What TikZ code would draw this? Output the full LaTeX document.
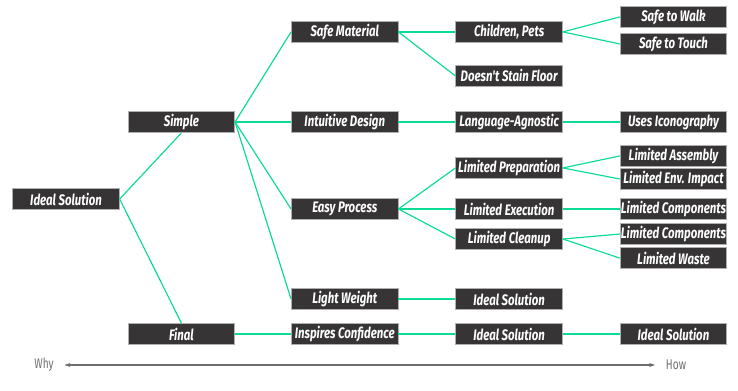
\documentclass[tikz,border=0pt]{standalone}
\usepackage{fontspec}
\usepackage{tikz}
\usetikzlibrary{arrows.meta,positioning}
\usepackage{xcolor}
\newfontfamily\boxfont[FakeStretch=0.75]{Fira Sans}
\newfontfamily\axisfont[FakeStretch=0.72]{Fira Sans}
\definecolor{boxgray}{RGB}{54,52,52}
\definecolor{edgegray}{RGB}{175,175,175}
\definecolor{mint}{RGB}{10,220,150}
\definecolor{axisgray}{RGB}{110,110,110}

\begin{document}
\begin{tikzpicture}[
    box/.style={rectangle, draw=edgegray, fill=boxgray, text=white, text centered, minimum width=3.2cm, minimum height=0.64cm, inner sep=0pt, line width=0.6pt, font=\boxfont\bfseries\itshape\fontsize{13}{15}\selectfont},
    link/.style={draw=mint, line width=1pt},
    axislabel/.style={text=axisgray, inner sep=2pt, font=\axisfont\fontsize{12}{14}\selectfont},
    axis/.style={{Stealth[length=5pt,width=3.5pt]}-{Stealth[length=5pt,width=3.5pt]}, draw=axisgray, line width=0.9pt, shorten <=0.25cm, shorten >=0.25cm}
]

\useasboundingbox (0,0) rectangle (22.14,-11.73);

\node[box] (ideal) at (1.98,-5.97) {Ideal Solution};

\node[box, above right=1.65cm and 0.24cm of ideal] (simple) {Simple};
\node[box, below right=3.39cm and 0.24cm of ideal] (final) {Final};

\node[box, above right=2.04cm and 1.68cm of simple] (safemat) {Safe Material};
\node[box, right=1.68cm of simple] (intuitive) {Intuitive Design};
\node[box, below=1.95cm of intuitive] (easy) {Easy Process};
\node[box, below=2.04cm of easy] (light) {Light Weight};
\node[box, right=1.68cm of final] (confidence) {Inspires Confidence};

\node[box, right=1.71cm of safemat] (children) {Children, Pets};
\node[box, below=0.66cm of children] (nostain) {Doesn't Stain Floor};
\node[box, right=1.71cm of intuitive] (agnostic) {Language-Agnostic};
\node[box, right=1.71cm of easy] (exec) {Limited Execution};
\node[box, above=0.57cm of exec] (prep) {Limited Preparation};
\node[box, below=0.24cm of exec] (cleanup) {Limited Cleanup};
\node[box, right=1.71cm of light] (lightideal) {Ideal Solution};
\node[box, right=1.71cm of confidence] (confideal) {Ideal Solution};

\node[box, right=1.71cm of children, yshift=0.45cm] (walk) {Safe to Walk};
\node[box, below=0.15cm of walk] (touch) {Safe to Touch};
\node[box, right=1.71cm of agnostic] (icons) {Uses Iconography};
\node[box, right=1.71cm of prep, yshift=0.36cm] (assembly) {Limited Assembly};
\node[box, below=0.03cm of assembly] (envimpact) {Limited Env. Impact};
\node[box, right=1.71cm of exec] (comps) {Limited Components};
\node[box, below=0.09cm of comps] (compsb) {Limited Components};
\node[box, below=0.06cm of compsb] (waste) {Limited Waste};
\node[box, right=1.71cm of confideal] (howideal) {Ideal Solution};

\node[axislabel] (why) at (1.32,-10.95) {Why};
\node[axislabel] (how) at (20.28,-10.95) {How};

\draw[link] (ideal.east) -- (simple.south);
\draw[link] (ideal.east) -- (final.north);
\draw[link] (simple.east) -- (safemat.west);
\draw[link] (simple.east) -- (intuitive.west);
\draw[link] (simple.east) -- (easy.west);
\draw[link] (simple.east) -- (light.west);
\draw[link] (final.east) -- (confidence.west);
\draw[link] (safemat.east) -- (children.west);
\draw[link] (safemat.east) -- (nostain.west);
\draw[link] (children.east) -- (walk.west);
\draw[link] (children.east) -- (touch.west);
\draw[link] (intuitive.east) -- (agnostic.west);
\draw[link] (agnostic.east) -- (icons.west);
\draw[link] (easy.east) -- (prep.west);
\draw[link] (easy.east) -- (exec.west);
\draw[link] (easy.east) -- (cleanup.west);
\draw[link] (prep.east) -- (assembly.west);
\draw[link] (prep.east) -- (envimpact.west);
\draw[link] (exec.east) -- (comps.west);
\draw[link] (cleanup.east) -- (compsb.west);
\draw[link] (cleanup.east) -- (waste.west);
\draw[link] (light.east) -- (lightideal.west);
\draw[link] (confidence.east) -- (confideal.west);
\draw[link] (confideal.east) -- (howideal.west);

\draw[axis] (why.east) -- (how.west);

\end{tikzpicture}
\end{document}
